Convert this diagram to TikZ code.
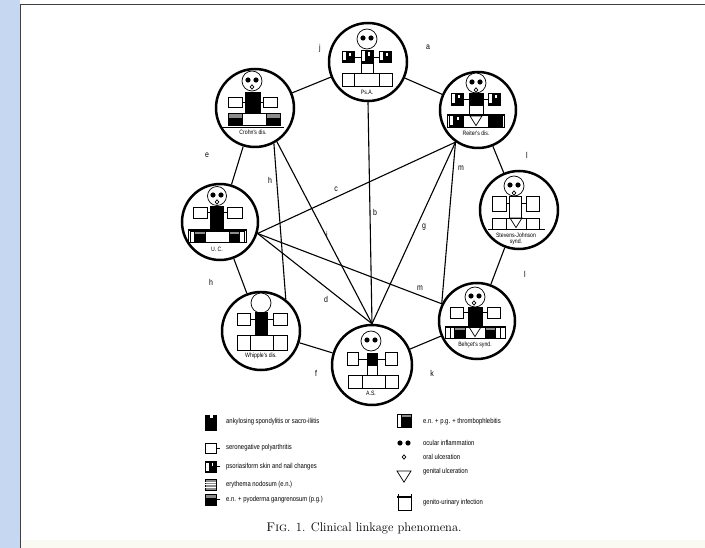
\documentclass[tikz,border=0pt]{standalone}
\usepackage{fontspec}
\newfontfamily\handfont[FakeStretch=0.82]{Liberation Sans}
\definecolor{sidebar}{HTML}{C6D7F1}
\definecolor{enshade}{gray}{0.55}
\definecolor{margincream}{HTML}{FAFAF2}

% symbol boxes, corners given as x1 y1 x2 y2
\newcommand\wbx[4]{\draw[fig,fill=white] (#1,#2) rectangle (#3,#4);}
\newcommand\bbx[4]{\draw[fig,fill=black] (#1,#2) rectangle (#3,#4);}
\newcommand\psx[4]{%
  \draw[fig,fill=black] (#1,#2) rectangle (#3,#4);
  \fill[white] ({#1+1.2},{#2+1.5}) rectangle ({#1+0.32*(#3-#1)},{#4-1.5});
  \fill[white] ({#1+0.6*(#3-#1)},{#2+2}) rectangle ({#1+0.72*(#3-#1)},{#2+0.45*(#4-#2)});}
\newcommand\enx[4]{%
  \draw[fig,fill=enshade] (#1,#2) rectangle (#3,#4);
  \foreach \k in {0.25,0.5,0.75}{\draw[white,line width=0.5pt] (#1,{#2+\k*(#4-#2)}) -- (#3,{#2+\k*(#4-#2)});}}
\newcommand\epx[4]{%
  \fill[enshade] (#1,#2) rectangle (#3,{#2+0.4*(#4-#2)});
  \fill[black] (#1,{#2+0.4*(#4-#2)}) rectangle (#3,#4);
  \draw[fig] (#1,#2) rectangle (#3,#4);}
\newcommand\etx[4]{%
  \fill[black] ({#1+0.3*(#3-#1)},#2) rectangle (#3,#4);
  \fill[enshade] ({#1+0.3*(#3-#1)},#2) rectangle (#3,{#2+0.25*(#4-#2)});
  \draw[fig] (#1,#2) rectangle (#3,#4);
  \draw[fig] ({#1+0.3*(#3-#1)},#2) -- ({#1+0.3*(#3-#1)},#4);}
\newcommand\etr[4]{%
  \fill[black] (#1,#2) rectangle ({#1+0.7*(#3-#1)},#4);
  \fill[enshade] (#1,#2) rectangle ({#1+0.7*(#3-#1)},{#2+0.25*(#4-#2)});
  \draw[fig] (#1,#2) rectangle (#3,#4);
  \draw[fig] ({#1+0.7*(#3-#1)},#2) -- ({#1+0.7*(#3-#1)},#4);}
% head with eyes
\newcommand\headeyes[3]{%
  \draw[fig,fill=white] (#1,#2) circle[radius=#3pt];
  \fill ({#1-4},{#2-1}) circle[radius=2.6pt];
  \fill ({#1+4},{#2-1}) circle[radius=2.6pt];}
\newcommand\mouth[2]{\draw[fig,fill=white] (#1,{#2-2.2}) -- ({#1+1.8},#2) -- (#1,{#2+2.2}) -- ({#1-1.8},#2) -- cycle;}
\newcommand\genital[3]{\draw[fig] ({#1-#3},#2) -- ({#1+#3},#2) -- (#1,{#2+1.6*#3}) -- cycle;}
% wide frame with heavy top bar used for genito-urinary infection
\newcommand\gu[4]{%
  \draw[fig] (#1,{#2-1}) -- (#1,#4) -- (#3,#4) -- (#3,{#2-1});
  \draw[line width=1.4pt] (#1,#2) -- (#3,#2);}

\begin{document}
\begin{tikzpicture}[x=1pt,y=-1pt,
  fig/.style={line width=0.7pt},
  disc/.style={circle,draw,line width=2.5pt,inner sep=0pt},
  link/.style={line width=1.1pt},
  tag/.style={font=\handfont\fontsize{8.5}{9}\selectfont,inner sep=0pt},
  lbl/.style={font=\handfont\fontsize{6.3}{7}\selectfont,inner sep=0pt,align=center},
  legtext/.style={font=\handfont\fontsize{7.2}{8}\selectfont,inner sep=0pt,anchor=west},
  captext/.style={font=\fontsize{12.5}{14}\selectfont,inner sep=0pt}]
\useasboundingbox (0,0) rectangle (705,548);
% page, lower margin and side bar
\fill[white] (0,0) rectangle (705,548);
\fill[margincream] (20,540) rectangle (705,548);
\fill[sidebar] (0,0) rectangle (20,548);
\draw[line width=1pt,black!75] (20,548) -- (20,5) -- (705,5);

% ---- the eight disease circles
\node[disc,minimum size=78pt] (psa) at (368,62) {};
\node[disc,minimum size=76pt] (rei) at (478,110) {};
\node[disc,minimum size=78pt] (cro) at (255,108) {};
\node[disc,minimum size=76pt] (uc)  at (220,222) {};
\node[disc,minimum size=78pt] (sj)  at (519,210) {};
\node[disc,minimum size=78pt] (whi) at (261,331) {};
\node[disc,minimum size=76pt] (beh) at (477,321) {};
\node[disc,minimum size=80pt] (as)  at (372,365) {};

% ---- ring of links
\draw[link] (psa) -- (rei);
\draw[link] (cro) -- (psa);
\draw[link] (cro) -- (uc);
\draw[link] (uc) -- (whi);
\draw[link] (whi) -- (as);
\draw[link] (as) -- (beh);
\draw[link] (beh) -- (sj);
\draw[link] (sj) -- (rei);
% ---- cross links
\draw[link] (psa.south) -- (as.north);
\draw[link] (uc.-17) -- (rei.235);
\draw[link] (uc.-17) -- (as.north);
\draw[link] (uc.-17) -- (beh.154);
\draw[link] (cro.-62) -- (whi.52);
\draw[link] (cro.-57) -- (as.north);
\draw[link] (rei.235) -- (as.north);
\draw[link] (rei.235) -- (beh.154);

% ---- link letters
\node[tag] (ta) at (428,47) {a};
\node[tag] (tj) at (320,48) {j};
\node[tag] (te) at (207,155) {e};
\node[tag] (th1) at (211,282) {h};
\node[tag] (tf) at (316,373) {f};
\node[tag] (tk) at (432,373) {k};
\node[tag] (tl1) at (525,274) {l};
\node[tag] (tl2) at (527,155) {l};
\node[tag] (th2) at (270,180) {h};
\node[tag] (tc) at (336,189) {c};
\node[tag] (tb) at (375,212) {b};
\node[tag] (ti) at (327,234) {i};
\node[tag] (tg) at (424,227) {g};
\node[tag] (tm1) at (461,168) {m};
\node[tag] (tm2) at (420,288) {m};
\node[tag] (td) at (326,299) {d};

% ---- Ps.A.
\begin{scope}[shift={(367,62)}]
  \draw[fig] (-19,-5) -- (19,-5);
  \draw[fig] (-6,1) rectangle (6,11);
  \headeyes{0}{-23}{10}
  \psx{-25}{-11}{-13}{0}
  \psx{12}{-11}{24}{0}
  \psx{-6}{-12}{6}{1}
  \wbx{-25}{11}{-13}{24}
  \wbx{-13}{11}{12}{24}
  \wbx{12}{11}{25}{24}
  \node[lbl] (psa-l) at (0,30) {Ps.A.};
\end{scope}

% ---- Reiter's disease
\begin{scope}[shift={(476,108)}]
  \draw[fig] (-19,-9) -- (19,-9);
  \draw[fig] (-7,-3) rectangle (7,7);
  \headeyes{0}{-25}{10}
  \mouth{0}{-18}
  \psx{-25}{-15}{-13}{-3}
  \psx{12}{-15}{24}{-3}
  \bbx{-7}{-15}{7}{-3}
  \psx{-27}{7}{-13}{19}
  \wbx{-13}{7}{12}{19}
  \genital{0}{8}{6}
  \bbx{12}{7}{26}{19}
  \gu{-29}{7}{28}{19}
  \node[lbl] (rei-l) at (0,25) {Reiter's dis.};
\end{scope}

% ---- Crohn's disease
\begin{scope}[shift={(252,108)}]
  \draw[fig] (-17,-6) -- (18,-6);
  \headeyes{0}{-27}{10}
  \mouth{0}{-21}
  \wbx{-24}{-11}{-10}{-1}
  \wbx{11}{-11}{25}{-1}
  \bbx{-7}{-16}{8}{5}
  \epx{-24}{5}{-10}{17}
  \wbx{-10}{5}{14}{17}
  \epx{14}{5}{28}{17}
  \draw[fig] (-30,19) -- (32,19);
  \node[lbl] (cro-l) at (1,24) {Crohn's dis.};
\end{scope}

% ---- ulcerative colitis
\begin{scope}[shift={(217,222)}]
  \draw[fig] (-17,-10) -- (18,-10);
  \headeyes{0}{-26}{9.5}
  \mouth{0}{-20}
  \wbx{-24}{-15}{-10}{-4}
  \wbx{10}{-15}{25}{-4}
  \bbx{-7}{-16}{6}{9}
  \etx{-27}{9}{-12}{20}
  \wbx{-12}{9}{12}{20}
  \etr{12}{9}{27}{20}
  \gu{-29}{8}{29}{20}
  \node[lbl] (uc-l) at (0,27) {U. C.};
\end{scope}

% ---- Stevens-Johnson syndrome
\begin{scope}[shift={(514,211)}]
  \draw[fig] (-15,-8) -- (19,-8);
  \headeyes{0}{-25}{10}
  \mouth{0}{-18}
  \wbx{-22}{-15}{-8}{0}
  \wbx{12}{-15}{25}{0}
  \wbx{-5}{-15}{7}{7}
  \wbx{-22}{7}{-8}{18}
  \wbx{-8}{7}{12}{18}
  \genital{2}{7}{6}
  \wbx{12}{7}{25}{18}
  \draw[fig] (-26,18) -- (31,18);
  \node[lbl] (sj-l) at (2,28) {Stevens-Johnson\\[-1.5pt]synd.};
\end{scope}

% ---- Whipple's disease
\begin{scope}[shift={(261,331)}]
  \draw[fig] (-11,-12) -- (12,-12);
  \draw[fig,fill=white] (0,-28) circle[radius=10pt];
  \wbx{-24}{-18}{-11}{-6}
  \wbx{12}{-18}{26}{-6}
  \bbx{-6}{-19}{6}{4}
  \wbx{-24}{4}{-11}{19}
  \wbx{-11}{4}{12}{19}
  \wbx{12}{4}{26}{19}
  \node[lbl] (whi-l) at (0,25) {Whipple's dis.};
\end{scope}

% ---- Behcet's syndrome
\begin{scope}[shift={(475,321)}]
  \draw[fig] (-17,-9) -- (17,-9);
  \headeyes{0}{-24}{10}
  \mouth{-1}{-18}
  \wbx{-25}{-14}{-12}{-3}
  \wbx{12}{-14}{25}{-3}
  \bbx{-7}{-14}{7}{6}
  \etx{-25}{6}{-10}{17}
  \wbx{-10}{6}{10}{17}
  \genital{0}{6}{6}
  \etr{10}{6}{25}{17}
  \gu{-30}{6}{30}{17}
  \node[lbl] (beh-l) at (0,24) {Behçet's synd.};
\end{scope}

% ---- ankylosing spondylitis
\begin{scope}[shift={(371,365)}]
  \draw[fig] (-13,-6) -- (14,-6);
  \draw[fig] (-4,0) rectangle (6,10);
  \headeyes{0}{-24}{10}
  \wbx{-24}{-13}{-13}{0}
  \wbx{14}{-13}{26}{0}
  \bbx{-4}{-12}{6}{0}
  \wbx{-23}{10}{-9}{23}
  \wbx{-9}{10}{14}{23}
  \wbx{14}{10}{27}{23}
  \node[lbl] (as-l) at (0,28) {A.S.};
\end{scope}

% ---- key
\begin{scope}
  \fill (205,415) rectangle (217,431);
  \fill[white] (209.5,415) rectangle (212.5,418);
  \node[legtext] (k1) at (226,422) {ankylosing spondylitis or sacro-iliitis};
  \wbx{205}{443}{216}{453}
  \draw[fig] (216,448) -- (220,448);
  \node[legtext] (k2) at (226,448) {seronegative polyarthritis};
  \psx{205}{461}{216}{472}
  \draw[fig] (216,466.5) -- (220,466.5);
  \node[legtext] (k3) at (226,467) {psoriasiform skin and nail changes};
  \enx{205}{479}{216}{490}
  \node[legtext] (k4) at (226,485) {erythema nodosum (e.n.)};
  \epx{205}{494}{216}{505}
  \draw[fig] (216,499.5) -- (220,499.5);
  \node[legtext] (k5) at (226,500) {e.n. + pyoderma gangrenosum (p.g.)};

  \etx{397}{414}{411}{427}
  \node[legtext] (k6) at (423,422) {e.n. + p.g. + thrombophlebitis};
  \fill (400,443) circle[radius=2.6pt];
  \fill (408,443) circle[radius=2.6pt];
  \node[legtext] (k7) at (423,443) {ocular inflammation};
  \mouth{404}{457}
  \node[legtext] (k8) at (423,457) {oral ulceration};
  \genital{404}{471}{7}
  \node[legtext] (k9) at (423,472) {genital ulceration};
  \wbx{398}{497}{411}{510}
  \draw[line width=1.6pt] (397,497) -- (412,497);
  \draw[fig] (398,494) -- (398,497) (411,494) -- (411,497);
  \node[legtext] (k10) at (423,503) {genito-urinary infection};
\end{scope}

\node[captext] (caption) at (364,528) {\textsc{Fig}. 1. Clinical linkage phenomena.};
\end{tikzpicture}
\end{document}
